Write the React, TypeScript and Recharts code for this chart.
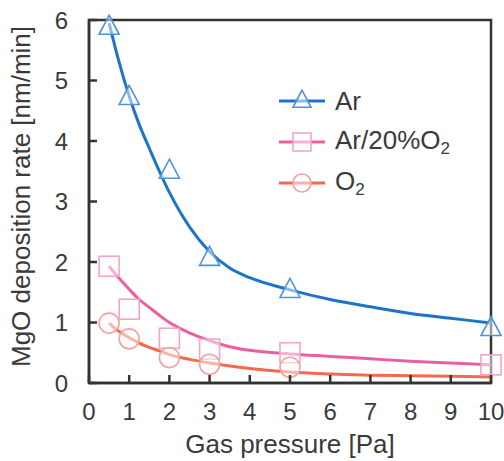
import React from "react";
import {
  ComposedChart,
  Line,
  Scatter,
  XAxis,
  YAxis,
  ReferenceArea,
} from "recharts";

// measured points
const pressures = [0.5, 1, 2, 3, 5, 10];
const arRate = [5.88, 4.72, 3.5, 2.06, 1.53, 0.9];
const arO2Rate = [1.93, 1.22, 0.74, 0.56, 0.5, 0.3];
const o2Pressures = [0.5, 1, 2, 3, 5];
const o2Rate = [0.99, 0.73, 0.42, 0.31, 0.26];

// fitted curves
const fitPressures = [0.5, 0.75, 1, 1.25, 1.5, 1.75, 2, 2.5, 3, 3.5, 4, 5, 6, 7, 8, 9, 10];
const arFit = [5.95, 5.3, 4.74, 4.27, 3.88, 3.5, 3.15, 2.58, 2.17, 1.9, 1.74, 1.54, 1.38, 1.26, 1.15, 1.07, 0.99];
const arO2Fit = [1.93, 1.73, 1.55, 1.38, 1.25, 1.12, 1.0, 0.83, 0.7, 0.6, 0.54, 0.48, 0.44, 0.4, 0.36, 0.33, 0.3];
const o2Fit = [0.99, 0.85, 0.75, 0.66, 0.59, 0.53, 0.47, 0.39, 0.33, 0.28, 0.24, 0.18, 0.15, 0.13, 0.12, 0.11, 0.1];

const xTicks = [0, 1, 2, 3, 4, 5, 6, 7, 8, 9, 10];
const yTicks = [0, 1, 2, 3, 4, 5, 6];

const FONT = "'Liberation Sans', Arial, sans-serif";
const AXIS = "#333";
const TEXT = "#3a3a3a";

const colors = {
  ar: { line: "#1b74c9", mark: "#4d93dc" },
  arO2: { line: "#ec5ea2", mark: "#f2a5cb" },
  o2: { line: "#f26a4e", mark: "#f5a29f" },
};

const toPts = (xs: number[], ys: number[]) => xs.map((x, i) => ({ x, y: ys[i] }));

const Tri = ({ cx, cy, color, s = 1 }: any) => (
  <polygon
    points={`${cx},${cy - 12 * s} ${cx - 10 * s},${cy + 7 * s} ${cx + 10 * s},${cy + 7 * s}`}
    fill="#fff"
    fillOpacity={0.5}
    stroke={color}
    strokeWidth={1.6}
  />
);
const Sq = ({ cx, cy, color, s = 1 }: any) => (
  <rect
    x={cx - 10 * s}
    y={cy - 10 * s}
    width={20 * s}
    height={20 * s}
    fill="#fff"
    fillOpacity={0.5}
    stroke={color}
    strokeWidth={1.6}
  />
);
const Circ = ({ cx, cy, color, s = 1 }: any) => (
  <circle cx={cx} cy={cy} r={10 * s} fill="#fff" fillOpacity={0.5} stroke={color} strokeWidth={1.6} />
);

// ticks point inward, labels outside
const XTick = ({ x, y, payload }: any) => (
  <g>
    <line x1={x} y1={y} x2={x} y2={y - 8} stroke={AXIS} strokeWidth={2.5} />
    <text x={x} y={y + 37} textAnchor="middle" fontSize={24} fill={TEXT} fontFamily={FONT}>
      {payload.value}
    </text>
  </g>
);
const YTick = ({ x, y, payload }: any) => (
  <g>
    <line x1={x} y1={y} x2={x + 8} y2={y} stroke={AXIS} strokeWidth={2.5} />
    <text x={x - 21} y={y + 8.5} textAnchor="end" fontSize={24} fill={TEXT} fontFamily={FONT}>
      {payload.value}
    </text>
  </g>
);

function LegendRow({ color, mark, Marker, children }: any) {
  return (
    <div style={{ display: "flex", alignItems: "center", height: 41 }}>
      <svg width={50} height={30}>
        <line x1={2} y1={15} x2={48} y2={15} stroke={color} strokeWidth={3} />
        <Marker cx={25} cy={15} color={mark} s={0.9} />
      </svg>
      <span style={{ marginLeft: 8 }}>{children}</span>
    </div>
  );
}

export default function App() {
  return (
    <div
      style={{
        position: "absolute",
        left: 0,
        top: 0,
        width: 504,
        height: 461,
        background: "#fff",
        fontFamily: FONT,
      }}
    >
      <ComposedChart
        width={504}
        height={461}
        margin={{ top: 20, right: 13, bottom: 0, left: 0 }}
      >
        <XAxis
          dataKey="x"
          type="number"
          domain={[0, 10]}
          ticks={xTicks}
          interval={0}
          height={78}
          stroke={AXIS}
          strokeWidth={2.5}
          tickLine={false}
          tickSize={0}
          tickMargin={0}
          tick={<XTick />}
        />
        <YAxis
          dataKey="y"
          type="number"
          domain={[0, 6]}
          ticks={yTicks}
          interval={0}
          width={89}
          stroke={AXIS}
          strokeWidth={2.5}
          tickLine={false}
          tickSize={0}
          tickMargin={0}
          tick={<YTick />}
          label={{
            content: (p: any) => {
              const vb = p.viewBox;
              const cx = vb.x + 30;
              const cy = vb.y + vb.height / 2 - 5;
              return (
                <text
                  x={cx}
                  y={cy}
                  transform={`rotate(-90 ${cx} ${cy})`}
                  textAnchor="middle"
                  fontSize={26}
                  fill={TEXT}
                  fontFamily={FONT}
                >
                  MgO deposition rate [nm/min]
                </text>
              );
            },
          }}
        />
        <ReferenceArea
          x1={0}
          x2={10}
          y1={0}
          y2={6}
          fill="none"
          stroke={AXIS}
          strokeWidth={2.5}
          ifOverflow="visible"
        />
        <Line
          data={toPts(fitPressures, arFit)}
          dataKey="y"
          type="monotone"
          stroke={colors.ar.line}
          strokeWidth={3}
          dot={false}
          isAnimationActive={false}
        />
        <Line
          data={toPts(fitPressures, arO2Fit)}
          dataKey="y"
          type="monotone"
          stroke={colors.arO2.line}
          strokeWidth={3}
          dot={false}
          isAnimationActive={false}
        />
        <Line
          data={toPts(fitPressures, o2Fit)}
          dataKey="y"
          type="monotone"
          stroke={colors.o2.line}
          strokeWidth={3}
          dot={false}
          isAnimationActive={false}
        />
        <Scatter
          data={toPts(pressures, arRate)}
          dataKey="y"
          isAnimationActive={false}
          shape={(p: any) => <Tri cx={p.cx} cy={p.cy} color={colors.ar.mark} />}
        />
        <Scatter
          data={toPts(pressures, arO2Rate)}
          dataKey="y"
          isAnimationActive={false}
          shape={(p: any) => <Sq cx={p.cx} cy={p.cy} color={colors.arO2.mark} />}
        />
        <Scatter
          data={toPts(o2Pressures, o2Rate)}
          dataKey="y"
          isAnimationActive={false}
          shape={(p: any) => <Circ cx={p.cx} cy={p.cy} color={colors.o2.mark} />}
        />
      </ComposedChart>
      <div
        style={{
          position: "absolute",
          left: 89,
          width: 402,
          top: 430,
          textAlign: "center",
          fontSize: 26,
          color: TEXT,
          lineHeight: "28px",
        }}
      >
        Gas pressure [Pa]
      </div>
      <div
        style={{
          position: "absolute",
          left: 277,
          top: 80,
          fontSize: 26,
          color: TEXT,
          lineHeight: 1,
        }}
      >
        <LegendRow color={colors.ar.line} mark={colors.ar.mark} Marker={Tri}>
          Ar
        </LegendRow>
        <LegendRow color={colors.arO2.line} mark={colors.arO2.mark} Marker={Sq}>
          Ar/20%O<sub style={{ fontSize: 17, verticalAlign: -5 }}>2</sub>
        </LegendRow>
        <LegendRow color={colors.o2.line} mark={colors.o2.mark} Marker={Circ}>
          O<sub style={{ fontSize: 17, verticalAlign: -5 }}>2</sub>
        </LegendRow>
      </div>
    </div>
  );
}
